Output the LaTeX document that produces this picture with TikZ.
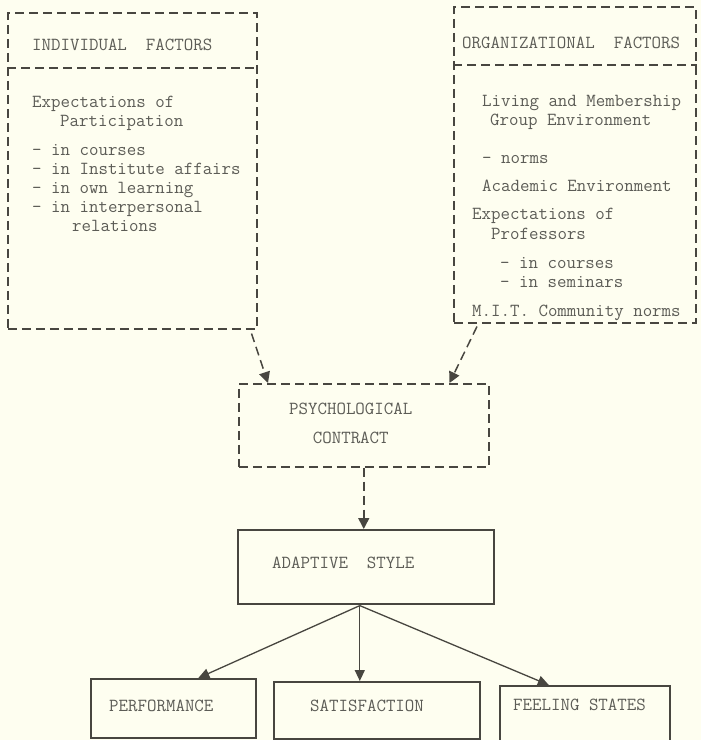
\documentclass[tikz,border=0pt]{standalone}
\usepackage{fontspec}
\usepackage{tikz}
\usepackage{xcolor}
\usetikzlibrary{arrows.meta,calc,positioning}
\definecolor{paper}{RGB}{254,254,240}
\definecolor{ink}{RGB}{72,70,64}
\definecolor{type}{RGB}{92,92,86}
\tikzset{%
	dbox/.style     = {draw=ink, line width=1.5pt, dash pattern=on 9pt off 5pt, rectangle, anchor=north west, inner sep=0pt}, % dashed box
	sbox/.style     = {draw=ink, line width=1.6pt, rectangle, anchor=north west, inner sep=0pt}, % solid box
	divider/.style  = {draw=ink, line width=1.5pt, dash pattern=on 9pt off 5pt}, % dashed rule
	txt/.style      = {text=type, inner sep=0pt, font=\ttfamily\fontsize{18.4}{19}\selectfont}, % typed text
	dlink/.style    = {draw=ink, line width=1.5pt, dash pattern=on 9pt off 5pt, -{Triangle[length=11pt,width=11pt]}}, % dashed arrow
	slink/.style    = {draw=ink, line width=1.3pt, -{Triangle[length=11pt,width=10pt]}}, % solid arrow
}
\begin{document}
\begin{tikzpicture}[x=1pt, y=-1pt]
	\fill[paper] (0,0) rectangle (701,740);
	\useasboundingbox (0,0) rectangle (701,740);
	
	% individual factors
	\node[dbox, minimum width=249pt, minimum height=316pt] (ind) at (7,12) {};
	\coordinate (indl) at ([yshift=-56pt]ind.north west);
	\coordinate (indr) at ([yshift=-56pt]ind.north east);
	\draw[divider] (indl) -- (indr);
	\node[txt, anchor=west] (indtitle) at ([shift={(25,-23)}]indl) {INDIVIDUAL\ \ FACTORS};
	\node[txt, anchor=north west, align=left] (indlist) at ([shift={(25,28)}]indl) {Expectations of\\
		\hspace*{28pt}Participation\\[10pt]
		- in courses\\
		- in Institute affairs\\
		- in own learning\\
		- in interpersonal\\
		\hspace*{40pt}relations};
	
	% organizational factors
	\node[dbox, minimum width=242pt, minimum height=316pt] (org) at (453,6) {};
	\coordinate (orgl) at ([yshift=-59pt]org.north west);
	\coordinate (orgr) at ([yshift=-59pt]org.north east);
	\draw[divider] (orgl) -- (orgr);
	\node[txt, anchor=west] (orgtitle) at ([shift={(9,-22)}]orgl) {ORGANIZATIONAL\ \ FACTORS};
	\node[txt, anchor=north west, align=left] (orglist) at ([shift={(19,30)}]orgl) {\hspace*{10pt}Living and Membership\\
		\hspace*{18pt}Group Environment\\[19pt]
		\hspace*{10pt}- norms\\[9pt]
		\hspace*{10pt}Academic Environment\\[9pt]
		Expectations of\\[1pt]
		\hspace*{19pt}Professors\\[10pt]
		\hspace*{28pt}- in courses\\
		\hspace*{28pt}- in seminars\\[10pt]
		M.I.T. Community norms};
	
	% contract and style
	\node[dbox, minimum width=250pt, minimum height=83pt] (psych) at (238,383) {};
	\node[txt, align=center, font=\ttfamily\fontsize{18.4}{29}\selectfont] (psychtext) at ([shift={(-13,-2)}]psych.center) {PSYCHOLOGICAL\\CONTRACT};
	\node[sbox, minimum width=256pt, minimum height=74pt] (adapt) at (237,529) {};
	\node[txt, anchor=west] (adapttext) at ([shift={(35,-4)}]adapt.west) {ADAPTIVE\ \ STYLE};
	
	% outcomes
	\node[sbox, minimum width=165pt, minimum height=59pt] (perf) at (90,678) {};
	\node[sbox, minimum width=206pt, minimum height=57pt] (satis) at (273,681) {};
	\node[sbox, minimum width=170pt, minimum height=55pt] (feel) at (499,685) {};
	\node[txt, anchor=west] (perftext) at ([shift={(19,-2)}]perf.west) {PERFORMANCE};
	\node[txt, anchor=west] (satistext) at ([shift={(37,-4)}]satis.west) {SATISFACTION};
	\node[txt, anchor=west] (feeltext) at ([shift={(14,-8)}]feel.west) {FEELING STATES};
	
	% arrows
	\draw[dlink] ([shift={(-6,4)}]ind.south east) -- ([xshift=30pt]psych.north west);
	\draw[dlink] ([shift={(24,3)}]org.south west) -- ([xshift=-40pt]psych.north east);
	\draw[dlink] (psych.south) -- (psych.south |- adapt.north);
	\coordinate (fork) at ([shift={(-6,1)}]adapt.south);
	\draw[slink] (fork) -- ([xshift=25pt]perf.north);
	\draw[slink] (fork) -- (fork |- satis.north);
	\draw[slink] (fork) -- ([xshift=-36pt]feel.north);
\end{tikzpicture}
\end{document}
